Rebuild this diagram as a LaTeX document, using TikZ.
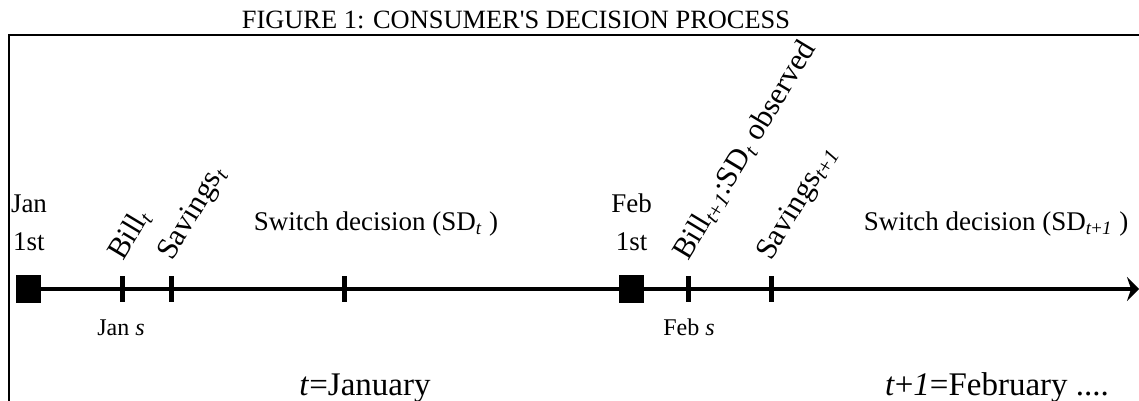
\documentclass[tikz,border=0pt]{standalone}
\usepackage{fontspec}
\setmainfont{Liberation Serif}
\usetikzlibrary{arrows.meta}

\newcommand{\sub}[1]{\textsubscript{#1}}
\newcommand{\itt}{\textit{t}}
\newcommand{\itone}{\textit{1}}

\tikzset{
  daybox/.style={fill=black, inner sep=0pt, minimum width=12.5pt, minimum height=14pt},
  tickmark/.style={fill=black, inner sep=0pt, minimum width=2.5pt, minimum height=13pt},
  daylbl/.style={font=\fontsize{13.5}{16}\selectfont, inner sep=0pt, anchor=base},
  eventlbl/.style={font=\fontsize{15.3}{18}\selectfont, inner sep=0pt, anchor=base west, rotate=59},
  smalllbl/.style={font=\fontsize{12}{14}\selectfont, inner sep=0pt, anchor=base},
  monthlbl/.style={font=\fontsize{16.5}{20}\selectfont, inner sep=0pt, anchor=base}
}

\begin{document}
\begin{tikzpicture}[x=0.5pt, y=-0.5pt]
    \useasboundingbox (0,0) rectangle (1139,401);

    % Titulo e moldura
    \node[font=\fontsize{13.2}{16}\selectfont, inner sep=0pt, anchor=base] (title) at (516,29) {FIGURE 1: CONSUMER\textquotesingle S DECISION PROCESS};
    \draw[line width=1.2pt] (9,401) -- (9,35) -- (1139,35);

    % Eixo do tempo
    \node[daybox] (jan) at (28.5,289) {};
    \node[daybox] (feb) at (631.5,289) {};
    \coordinate (end) at (1139,289);
    \draw[line width=2pt, -{Stealth[length=6pt, width=12pt, inset=2pt]}] (jan.center) -- (end);
    \node[daybox] at (jan.center) {};
    \node[daybox] at (feb.center) {};

    % Marcas: nome/posicao
    \foreach \name/\x in {billt/122, savt/171, sdt/344, billn/688, savn/771} {
        \node[tickmark] (\name) at (\x,289) {};
    }

    % Dias 1
    \node[daylbl] (janname) at (29,212) {Jan};
    \node[daylbl] (janday) at (29,250) {1st};
    \node[daylbl] (febname) at (631.5,212) {Feb};
    \node[daylbl] (febday) at (631.5,250) {1st};

    % Eventos (texto inclinado)
    \node[eventlbl] (billtlbl) at (123,262) {Bill\sub{\itt}};
    \node[eventlbl] (savtlbl) at (172,262) {Savings\sub{\itt}};
    \node[eventlbl] (billnlbl) at (688,262) {Bill\sub{\itt+\itone}:SD\sub{\itt} observed};
    \node[eventlbl] (savnlbl) at (771,262) {Savings\sub{\itt+\itone}};

    % Decisoes
    \node[daylbl] (sdtlbl) at (376,230) {Switch decision (SD\sub{\itt} )};
    \node[daylbl] (sdnlbl) at (996,230) {Switch decision (SD\sub{\itt+\itone} )};

    % Rotulos abaixo do eixo
    \node[smalllbl] (jans) at (121,335) {Jan \textit{s}};
    \node[smalllbl] (febs) at (689,335) {Feb \textit{s}};
    \node[monthlbl] (jant) at (365,395) {\itt=January};
    \node[monthlbl] (febt) at (997,395) {\itt+\itone=February ....};
\end{tikzpicture}
\end{document}
